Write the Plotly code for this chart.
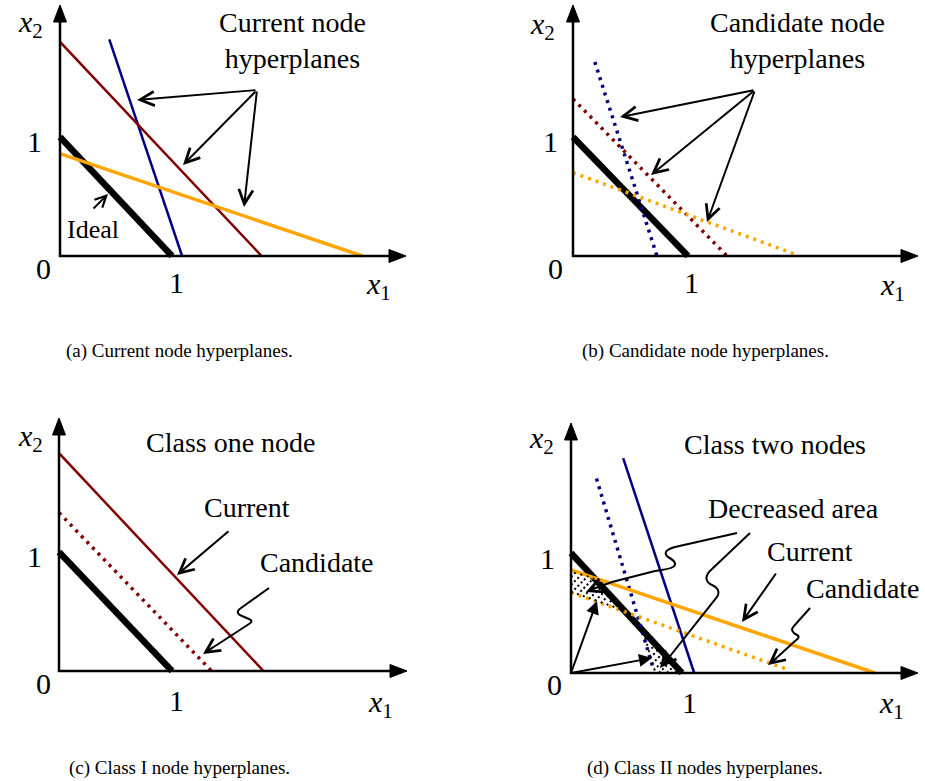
import numpy as np
import plotly.graph_objects as go

W, H = 925, 781
SERIF = "Liberation Serif"

# ---- hyperplane end points (x1, x2), in axis units of each panel ----
ideal_x = [0.0, 1.0]
ideal_y = [1.0, 0.0]

# (a) current node hyperplanes
a_blue_x, a_blue_y = [0.44, 1.09], [1.82, 0.0]
a_red_x, a_red_y = [0.0, 1.80], [1.80, 0.0]
a_orange_x, a_orange_y = [0.0, 2.70], [0.86, 0.0]

# (b) candidate node hyperplanes
b_blue_x, b_blue_y = [0.19, 0.73], [1.63, 0.0]
b_red_x, b_red_y = [0.0, 1.34], [1.32, 0.0]
b_orange_x, b_orange_y = [0.0, 1.92], [0.70, 0.02]

# (c) class I node: current vs candidate
c_cur_x, c_cur_y = [0.0, 1.81], [1.83, 0.0]
c_cand_x, c_cand_y = [0.0, 1.35], [1.33, 0.0]

# (d) class II nodes: current vs candidate
d_blue_cur_x, d_blue_cur_y = [0.47, 1.11], [1.79, 0.0]
d_blue_cand_x, d_blue_cand_y = [0.23, 0.74], [1.62, 0.04]
d_orange_cur_x, d_orange_cur_y = [0.0, 2.74], [0.86, 0.0]
d_orange_cand_x, d_orange_cand_y = [0.0, 1.95], [0.67, 0.03]

tick_zero, tick_one = "0", "1"
captions = ["(a) Current node hyperplanes.", "(b) Candidate node hyperplanes.",
            "(c) Class I node hyperplanes.", "(d) Class II nodes hyperplanes."]

RED, BLUE, ORANGE = "#800000", "#000080", "#FFA500"
DOT = "3px,5px"

# ---- panel geometry (page pixels): origin, unit lengths, box, arrow tips ----
panels = [
    dict(origin=(60, 256), unit=(112, 119), box=(0, 462, 0, 330), xtip=406, ytip=5),
    dict(origin=(573, 256), unit=(115, 119), box=(463, 925, 0, 330), xtip=918, ytip=5),
    dict(origin=(59, 671), unit=(113, 119), box=(0, 462, 390, 740), xtip=407, ytip=418),
    dict(origin=(571, 673), unit=(111, 120), box=(463, 925, 390, 740), xtip=918, ytip=423),
]


def px(x):
    return x / W


def py(y):
    return 1 - y / H


fig = go.Figure()
layout_axes = {}
for i, p in enumerate(panels, start=1):
    ox, oy = p["origin"]
    ux, uy = p["unit"]
    x0, x1, y0, y1 = p["box"]
    sfx = "" if i == 1 else str(i)
    layout_axes["xaxis" + sfx] = dict(domain=[px(x0), px(x1)], range=[(x0 - ox) / ux, (x1 - ox) / ux],
                                      visible=False, anchor="y" + sfx, fixedrange=True)
    layout_axes["yaxis" + sfx] = dict(domain=[py(y1), py(y0)], range=[(oy - y1) / uy, (oy - y0) / uy],
                                      visible=False, anchor="x" + sfx, fixedrange=True)


def add_line(panel, xs, ys, color, width, dash="solid"):
    sfx = "" if panel == 1 else str(panel)
    fig.add_trace(go.Scatter(x=xs, y=ys, mode="lines", xaxis="x" + sfx, yaxis="y" + sfx,
                             line=dict(color=color, width=width, dash=dash), hoverinfo="skip"))


# ideal hyperplane in every panel
for k in range(1, 5):
    add_line(k, ideal_x, ideal_y, "black", 6.5)

add_line(1, a_blue_x, a_blue_y, BLUE, 2.5)
add_line(1, a_red_x, a_red_y, RED, 2.5)
add_line(1, a_orange_x, a_orange_y, ORANGE, 3.5)

add_line(2, b_blue_x, b_blue_y, BLUE, 3.5, DOT)
add_line(2, b_red_x, b_red_y, RED, 3.5, DOT)
add_line(2, b_orange_x, b_orange_y, ORANGE, 3.5, DOT)

add_line(3, c_cur_x, c_cur_y, RED, 2.5)
add_line(3, c_cand_x, c_cand_y, RED, 3.5, DOT)

add_line(4, d_blue_cand_x, d_blue_cand_y, BLUE, 3.5, DOT)
add_line(4, d_blue_cur_x, d_blue_cur_y, BLUE, 2.5)
add_line(4, d_orange_cand_x, d_orange_cand_y, ORANGE, 3.5, DOT)
add_line(4, d_orange_cur_x, d_orange_cur_y, ORANGE, 3.5)


# ---- hatching of the decreased area in panel (d) ----
def line_fn(xs, ys):
    s = (ys[1] - ys[0]) / (xs[1] - xs[0])
    return lambda x: ys[0] + s * (x - xs[0])


f_ideal = line_fn(ideal_x, ideal_y)
f_oc = line_fn(d_orange_cur_x, d_orange_cur_y)
f_od = line_fn(d_orange_cand_x, d_orange_cand_y)
f_bd = line_fn(d_blue_cand_x, d_blue_cand_y)


def in_region(X, Y):
    r1 = (X >= 0) & (Y >= f_od(X)) & (Y <= f_oc(X)) & (Y <= f_ideal(X))
    r2 = (Y >= 0) & (Y >= f_bd(X)) & (Y <= f_ideal(X))
    return r1, r2


ox, oy = panels[3]["origin"]
ux, uy = panels[3]["unit"]
hx, hy = [], []
Xs = np.linspace(-0.1, 1.3, 3000)
for k in np.arange(500, 1400, 8.0):
    # screen lines x_px + y_px = k, i.e. rising to the right
    Ys = (ux * Xs + ox + oy - k) / uy
    for mask in in_region(Xs, Ys):
        if mask.sum() > 2:
            idx = np.where(mask)[0]
            hx += [Xs[idx[0]], Xs[idx[-1]], None]
            hy += [Ys[idx[0]], Ys[idx[-1]], None]
fig.add_trace(go.Scatter(x=hx, y=hy, mode="lines", xaxis="x4", yaxis="y4",
                         line=dict(color="black", width=2, dash="2px,2.5px"), hoverinfo="skip"))

# ---- axes with arrow heads ----
shapes = []


def seg(p, q, width=2.5):
    return dict(type="line", xref="paper", yref="paper", x0=px(p[0]), y0=py(p[1]),
                x1=px(q[0]), y1=py(q[1]), line=dict(color="black", width=width))


def tri(pts):
    path = "M" + "L".join(f"{px(x):.5f},{py(y):.5f}" for x, y in pts) + "Z"
    return dict(type="path", xref="paper", yref="paper", path=path, fillcolor="black",
                line=dict(color="black", width=1))


for p in panels:
    ox, oy = p["origin"]
    xt, yt = p["xtip"], p["ytip"]
    shapes.append(seg((ox - 1, oy), (xt - 12, oy)))
    shapes.append(seg((ox, oy + 1), (ox, yt + 12)))
    shapes.append(tri([(xt, oy), (xt - 17, oy - 6.5), (xt - 17, oy + 6.5)]))
    shapes.append(tri([(ox, yt), (ox - 6.5, yt + 17), (ox + 6.5, yt + 17)]))


def curve(cmds, width=2):
    parts = []
    for c, *xy in cmds:
        coords = " ".join(f"{px(xy[j]):.5f},{py(xy[j + 1]):.5f}" for j in range(0, len(xy), 2))
        parts.append(c + coords)
    return dict(type="path", xref="paper", yref="paper", path=" ".join(parts),
                line=dict(color="black", width=width))


# wavy pointer shafts
shapes.append(curve([("M", 269, 588), ("L", 241, 608), ("Q", 234, 613, 242, 616),
                     ("L", 249, 619), ("Q", 254, 621, 249, 624), ("L", 206, 652)]))
shapes.append(curve([("M", 810, 608), ("L", 794, 626), ("Q", 789, 631, 797, 635),
                     ("Q", 801, 637, 795, 641), ("L", 771, 663)]))
shapes.append(curve([("M", 737, 533), ("L", 675, 547), ("Q", 661, 551, 668, 557),
                     ("Q", 679, 563, 673, 567), ("Q", 670, 569, 655, 571), ("L", 612, 582),
                     ("L", 590, 590)]))
shapes.append(curve([("M", 750, 533), ("L", 712, 569), ("Q", 702, 578, 710, 584),
                     ("Q", 722, 589, 717, 597), ("L", 663, 665)]))

# ---- annotations ----
ann = []


def label(text, x, y, size=28, family=SERIF):
    ann.append(dict(text=text, x=px(x), y=py(y), xref="paper", yref="paper", showarrow=False,
                    font=dict(family=family, size=size, color="black"),
                    xanchor="center", yanchor="middle"))


def arrow(tip, tail, head=5, size=1.4, width=2):
    ann.append(dict(text="", x=px(tip[0]), y=py(tip[1]), xref="paper", yref="paper",
                    ax=tail[0] - tip[0], ay=tail[1] - tip[1], axref="pixel", ayref="pixel",
                    showarrow=True, arrowhead=head, arrowsize=size, arrowwidth=width,
                    arrowcolor="black", standoff=0, startstandoff=0))


X2 = "<i>x</i><sub>2</sub>"
X1 = "<i>x</i><sub>1</sub>"

# axis labels and ticks for each panel
tick_pos = [
    dict(x2=(31, 24), y1=(34, 141), o=(43, 268), x1t=(176, 282), x1=(378, 286)),
    dict(x2=(542, 26), y1=(550, 141), o=(555, 268), x1t=(691, 282), x1=(892, 287)),
    dict(x2=(30, 438), y1=(34, 556), o=(43, 683), x1t=(176, 700), x1=(380, 704)),
    dict(x2=(541, 440), y1=(547, 558), o=(554, 684), x1t=(689, 702), x1=(891, 705)),
]
for t in tick_pos:
    label(X2, *t["x2"], size=30)
    label(tick_one, *t["y1"], size=30)
    label(tick_zero, *t["o"], size=30)
    label(tick_one, *t["x1t"], size=30)
    label(X1, *t["x1"], size=30)

# (a)
label("Current node<br>hyperplanes", 292, 40)
label("Ideal", 93, 229, size=26)
for tip in [(137, 100), (183, 165), (244, 207)]:
    arrow(tip, (257, 90))
arrow((108, 194), (92, 210), size=1.1)

# (b)
label("Candidate node<br>hyperplanes", 797, 41)
for tip in [(620, 117), (651, 175), (707, 222)]:
    arrow(tip, (755, 90))

# (c)
label("Class one node", 231, 442)
label("Current", 247, 507)
label("Candidate", 317, 562)
arrow((177, 575), (230, 530))
arrow((203, 654), (215, 646))

# (d)
label("Class two nodes", 775, 444)
label("Decreased area", 793, 508)
label("Current", 810, 551)
label("Candidate", 863, 588)
arrow((742, 622), (777, 572))
arrow((768, 665), (778, 657))
arrow((586, 592), (598, 587))
arrow((660, 668), (668, 658))
arrow((597, 601), (571, 673), head=2, size=1.3, width=2)
arrow((652, 658), (571, 673), head=2, size=1.3, width=2)

# captions
for text, (cx, cy) in zip(captions, [(179, 351), (705, 351), (179, 768), (705, 768)]):
    label(text, cx, cy, size=19)

fig.update_layout(width=W, height=H, margin=dict(l=0, r=0, t=0, b=0),
                  paper_bgcolor="white", plot_bgcolor="white", showlegend=False,
                  shapes=shapes, annotations=ann, **layout_axes)

fig.write_html("out.html")
